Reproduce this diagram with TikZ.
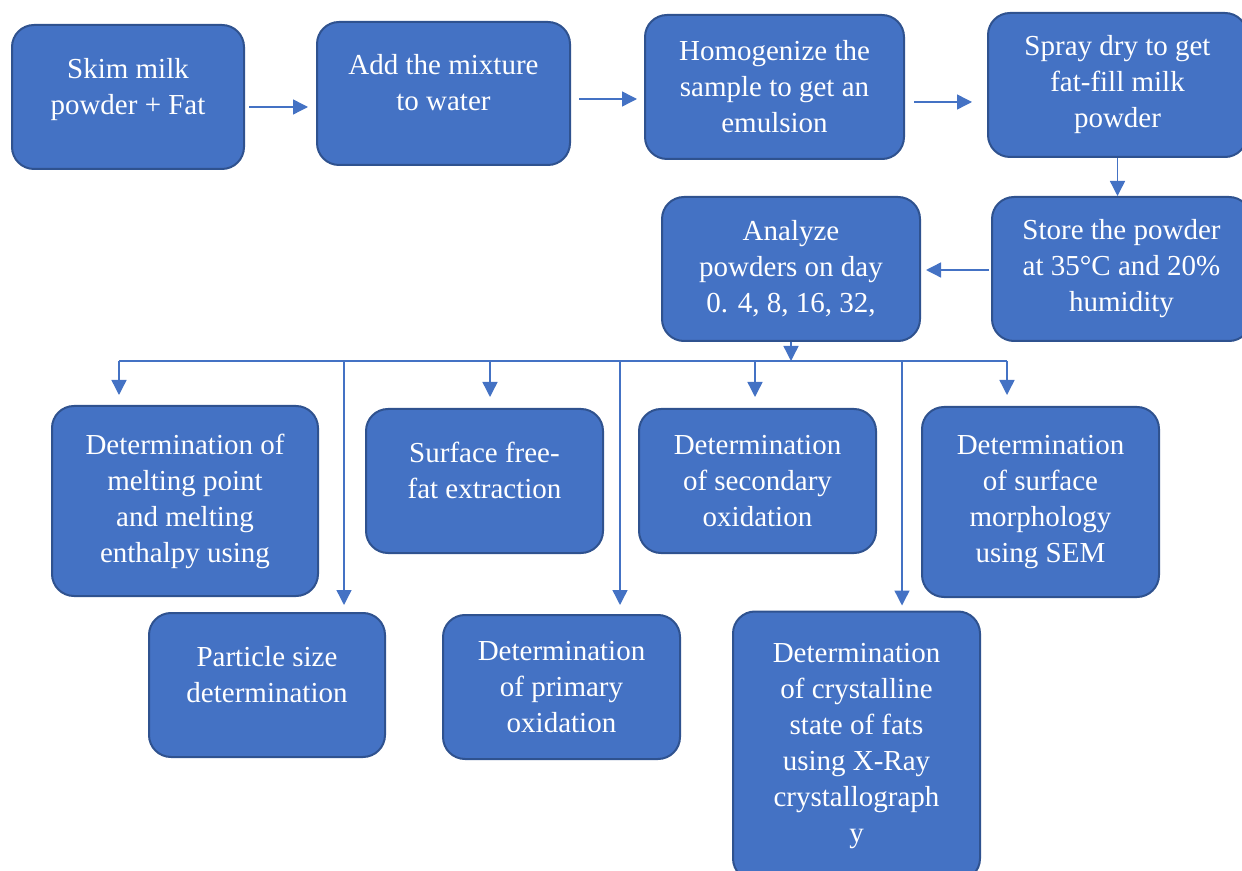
\documentclass[tikz,border=0pt]{standalone}
\usepackage{fontspec}
\setmainfont{Liberation Serif}
\usetikzlibrary{arrows.meta}
\definecolor{boxblue}{HTML}{4472C4}
\definecolor{boxedge}{HTML}{2F528F}
\tikzset{>={Triangle[length=7.5pt,width=7.5pt]}}

\begin{document}
\begin{tikzpicture}[x=0.5pt,y=-0.5pt,
    box/.style={draw=boxedge, line width=1pt, fill=boxblue, rounded corners=11pt,
        text=white, align=center, font=\fontsize{14.5}{18}\selectfont, inner sep=0pt},
    raised/.style={text depth=11pt},
    flow/.style={->, draw=boxblue, line width=0.7pt}]
    \useasboundingbox (0,0) rectangle (1242,871);
    \node[box, raised, minimum width=116pt, minimum height=72pt] (skim) at (128,97) {Skim milk\\powder + Fat};
    \node[box, raised, minimum width=126.5pt, minimum height=71.5pt] (mix) at (443.5,93.5) {Add the mixture\\to water};
    \node[box, minimum width=129.5pt, minimum height=72pt] (homog) at (774.5,87) {Homogenize the\\sample to get an\\emulsion};
    \node[box, minimum width=129.5pt, minimum height=72pt] (spray) at (1117.5,85) {Spray dry to get\\fat-fill milk\\powder};
    \node[box, minimum width=129.5pt, minimum height=72pt] (store) at (1121.5,269) {Store the powder\\at 35°C and 20\%\\humidity};
    \node[box, minimum width=129pt, minimum height=72pt] (analyze) at (791,269) {Analyze\\powders on day\\0. 4, 8, 16, 32,};
    \node[box, minimum width=133pt, minimum height=95pt] (melt) at (185,501) {Determination of\\melting point\\and melting\\enthalpy using};
    \node[box, raised, minimum width=118.5pt, minimum height=72pt] (freefat) at (484.5,481) {Surface free-\\fat extraction};
    \node[box, minimum width=118.5pt, minimum height=72pt] (second) at (757.5,481) {Determination\\of secondary\\oxidation};
    \node[box, minimum width=118.5pt, minimum height=95pt] (sem) at (1040.5,502) {Determination\\of surface\\morphology\\using SEM};
    \node[box, raised, minimum width=118pt, minimum height=72pt] (particle) at (267,685) {Particle size\\determination};
    \node[box, minimum width=118.5pt, minimum height=72pt] (primary) at (561.5,687) {Determination\\of primary\\oxidation};
    \node[box, minimum width=123.5pt, minimum height=134.5pt] (crystal) at (856.5,746) {Determination\\of crystalline\\state of fats\\using X-Ray\\crystallograph\\y};

    \draw[flow, shorten <=2pt, shorten >=4pt] (skim.east |- 0,107) -- (mix.west |- 0,107);
    \draw[flow, shorten <=4pt, shorten >=3.5pt] (mix.east |- 0,99) -- (homog.west |- 0,99);
    \draw[flow, shorten <=4.5pt, shorten >=7.5pt] (homog.east |- 0,102) -- (spray.west |- 0,102);
    \draw[flow] (spray.south) -- (spray.south |- store.north);
    \draw[flow, shorten <=1pt, shorten >=2.5pt] (store.west |- 0,270) -- (analyze.east |- 0,270);

    \coordinate (busl) at (119,361);
    \coordinate (busr) at (1007,361);
    \draw[flow] (analyze.south) -- (analyze.south |- busl);
    \draw[draw=boxblue, line width=0.7pt] (busl) -- (busr);
    \draw[flow, shorten >=5pt] (busl) -- (melt.north -| busl);
    \draw[flow, shorten >=5.5pt] (490,361) -- (freefat.north -| 490,0);
    \draw[flow, shorten >=5.5pt] (755,361) -- (second.north -| 755,0);
    \draw[flow, shorten >=5.5pt] (busr) -- (sem.north -| busr);
    \draw[flow, shorten >=3.5pt] (344,361) -- (particle.north -| 344,0);
    \draw[flow, shorten >=4.5pt] (620,361) -- (primary.north -| 620,0);
    \draw[flow, shorten >=2.5pt] (902,361) -- (crystal.north -| 902,0);
\end{tikzpicture}
\end{document}
